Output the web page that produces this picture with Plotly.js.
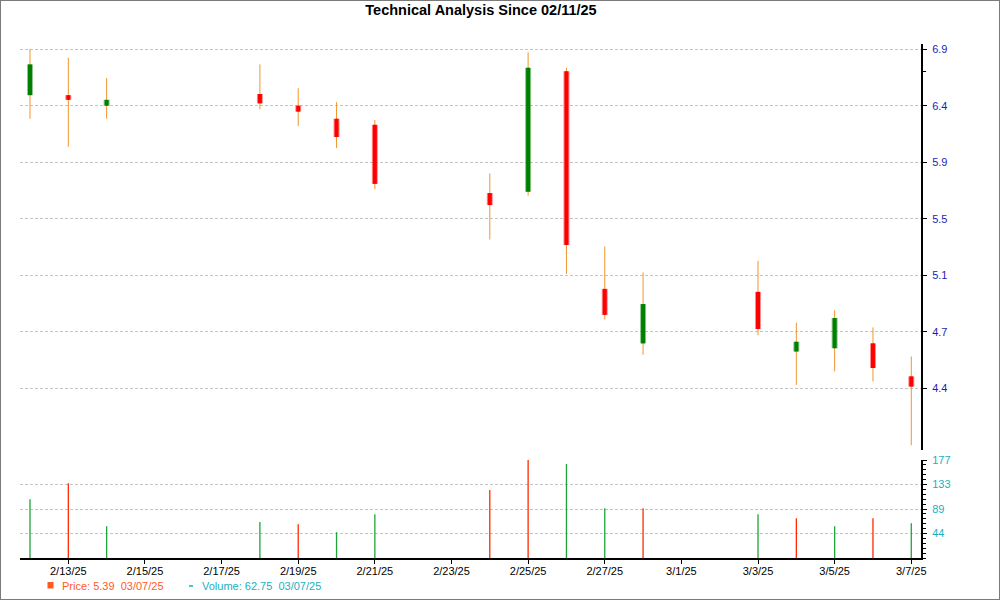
<!DOCTYPE html>
<html>
<head>
<meta charset="utf-8">
<script src="https://cdn.plot.ly/plotly-3.0.1.min.js"></script>
<style>
html, body { margin: 0; padding: 0; background: #fff; }
#wrap { position: relative; width: 1000px; height: 600px; }
#chart { width: 1000px; height: 600px; }
#frame { position: absolute; left: 0; top: 0; width: 1000px; height: 600px; box-sizing: border-box; border: 1px solid #7a7a7a; pointer-events: none; }
</style>
</head>
<body>
<div id="wrap"><div id="chart"></div><div id="frame"></div></div>
<script>
// ---- data ----
const dates = ['2025-02-12','2025-02-13','2025-02-14','2025-02-18','2025-02-19','2025-02-20','2025-02-21',
               '2025-02-24','2025-02-25','2025-02-26','2025-02-27','2025-02-28',
               '2025-03-03','2025-03-04','2025-03-05','2025-03-06','2025-03-07'];
const openP  = [6.49, 6.49, 6.40, 6.50, 6.40, 6.29, 6.24, 5.70, 5.71, 6.70, 5.02, 4.67, 5.00, 4.62, 4.64, 4.67, 4.47];
const highP  = [6.90, 6.82, 6.64, 6.76, 6.55, 6.43, 6.28, 5.85, 6.87, 6.73, 5.31, 5.13, 5.21, 4.80, 4.88, 4.77, 4.59];
const lowP   = [6.29, 6.06, 6.29, 6.37, 6.23, 6.05, 5.73, 5.36, 5.68, 5.12, 4.82, 4.60, 4.72, 4.42, 4.50, 4.44, 4.08];
const closeP = [6.76, 6.45, 6.45, 6.42, 6.35, 6.14, 5.77, 5.61, 6.73, 5.32, 4.85, 4.92, 4.76, 4.68, 4.83, 4.52, 4.41];
const volume = [106.3, 134.8, 57.4, 65.2, 61.0, 46.6, 79.2, 122.6, 177.0, 169.7, 90.0, 90.0, 79.2, 71.9, 57.4, 71.9, 62.75];
const volUp  = [true, false, true, true, false, true, true, false, false, true, true, false, true, false, true, false, true];

const priceTickVals = [4.4, 4.742, 5.111, 5.509, 5.937, 6.399, 6.897];
const priceTickText = ['4.4', '4.7', '5.1', '5.5', '5.9', '6.4', '6.9'];
const priceMinorVals = [6.7];
const volTickVals = [44.25, 88.5, 132.75, 177];
const volTickText = ['44', '89', '133', '177'];
const xTickVals = ['2025-02-13','2025-02-15','2025-02-17','2025-02-19','2025-02-21','2025-02-23',
                   '2025-02-25','2025-02-27','2025-03-01','2025-03-03','2025-03-05','2025-03-07'];
const xTickText = ['2/13/25','2/15/25','2/17/25','2/19/25','2/21/25','2/23/25',
                   '2/25/25','2/27/25','3/1/25','3/3/25','3/5/25','3/7/25'];
const titleText = 'Technical Analysis Since 02/11/25';
const legendPrice = 'Price: 5.39  03/07/25';
const legendVolume = 'Volume: 62.75  03/07/25';

// ---- build traces ----
function segs(filter, y0f, y1f) {
  const x = [], y = [];
  dates.forEach((d, i) => {
    if (!filter(i)) return;
    x.push(d, d, null);
    y.push(y0f(i), y1f(i), null);
  });
  return {x, y};
}
const FONT = 'Liberation Sans, Arial, sans-serif';
const wick = segs(() => true, i => lowP[i], i => highP[i]);
const upB = segs(i => closeP[i] >= openP[i], i => openP[i], i => closeP[i]);
const dnB = segs(i => closeP[i] < openP[i], i => openP[i], i => closeP[i]);
const vUp = segs(i => volUp[i], () => 0, i => volume[i]);
const vDn = segs(i => !volUp[i], () => 0, i => volume[i]);

function line(s, color, width, yaxis) {
  return {type: 'scatter', mode: 'lines', x: s.x, y: s.y, xaxis: 'x', yaxis: yaxis,
          line: {color: color, width: width}, hoverinfo: 'skip', showlegend: false, connectgaps: false};
}
const traces = [
  line(wick, '#f0962f', 1, 'y'),
  line(upB, 'rgba(0,128,0,0.45)', 6, 'y'),
  line(dnB, 'rgba(255,0,0,0.45)', 6, 'y'),
  line(upB, '#008000', 4, 'y'),
  line(dnB, '#ff0000', 4, 'y'),
  line(vUp, '#1fa53a', 1.3, 'y2'),
  line(vDn, '#ff2a00', 1.3, 'y2')
];

const T = 44, B = 42, L = 20, R = 79, H = 600, W = 1000;
const ph = H - T - B, pw = W - L - R;
const px = x => (x - L) / pw;
const py = y => (H - B - y) / ph;

const layout = {
  width: W, height: H,
  margin: {l: L, r: R, t: T, b: B, pad: 0},
  paper_bgcolor: '#fff', plot_bgcolor: '#fff',
  showlegend: false,
  hovermode: false,
  title: {text: '<b>' + titleText + '</b>', font: {family: FONT, size: 14.5, color: '#000'},
          x: 0.481, xref: 'container', xanchor: 'center', y: 1 - 9.5 / H, yref: 'container', yanchor: 'middle'},
  xaxis: {
    type: 'date', anchor: 'y2', range: ['2025-02-11 17:44', '2025-03-07 06:05'],
    tickmode: 'array', tickvals: xTickVals, ticktext: xTickText,
    showgrid: false, zeroline: false,
    showline: true, linecolor: '#000', linewidth: 2,
    ticks: 'outside', ticklen: 4, tickcolor: '#000', tickwidth: 1, ticklabelstandoff: -2,
    tickfont: {family: FONT, size: 11, color: '#000'}
  },
  yaxis: {
    type: 'log', domain: [(H - B - 450) / ph, 1], anchor: 'x', side: 'right',
    range: [0.60792, 0.84171],
    tickmode: 'array', tickvals: priceTickVals, ticktext: priceTickText,
    showgrid: true, gridcolor: '#c4c4c4', griddash: '3px,2px', gridwidth: 1,
    zeroline: false, showline: true, linecolor: '#000', linewidth: 2,
    ticks: 'outside', ticklen: 4, tickcolor: '#000', ticklabelstandoff: 3,
    minor: {tickmode: 'array', tickvals: priceMinorVals, ticks: 'outside', ticklen: 3, tickcolor: '#000', showgrid: false},
    tickfont: {family: FONT, size: 11, color: '#1c1cb8'}
  },
  yaxis2: {
    domain: [0, (H - B - 460) / ph], anchor: 'x', side: 'right',
    range: [0, 177],
    tickmode: 'array', tickvals: volTickVals, ticktext: volTickText,
    showgrid: true, gridcolor: '#c4c4c4', griddash: '3px,2px', gridwidth: 1,
    zeroline: false, showline: true, linecolor: '#000', linewidth: 2,
    ticks: 'outside', ticklen: 4, tickcolor: '#000', ticklabelstandoff: 3,
    minor: {tickmode: 'linear', tick0: 0, dtick: 177 / 20, ticks: 'outside', ticklen: 3, tickcolor: '#000', showgrid: false},
    tickfont: {family: FONT, size: 11, color: '#19b0c2'}
  },
  shapes: [
    {type: 'rect', xref: 'paper', yref: 'paper', x0: px(47.5), x1: px(53.5), y0: py(588.5), y1: py(582),
     fillcolor: '#ff5a1f', line: {width: 0}},
    {type: 'line', xref: 'paper', yref: 'paper', x0: px(189), x1: px(193), y0: py(586), y1: py(586),
     line: {color: '#19b0c2', width: 1.5}}
  ],
  annotations: [
    {xref: 'paper', yref: 'paper', x: px(60), y: py(586), xanchor: 'left', yanchor: 'middle', showarrow: false,
     text: legendPrice.replace(/  /g, ' &nbsp;'), font: {family: FONT, size: 11, color: '#ff5a2a'}},
    {xref: 'paper', yref: 'paper', x: px(200), y: py(586), xanchor: 'left', yanchor: 'middle', showarrow: false,
     text: legendVolume.replace(/  /g, ' &nbsp;'), font: {family: FONT, size: 11, color: '#19b0c2'}}
  ]
};

Plotly.newPlot('chart', traces, layout, {staticPlot: true, displayModeBar: false});
</script>
</body>
</html>
